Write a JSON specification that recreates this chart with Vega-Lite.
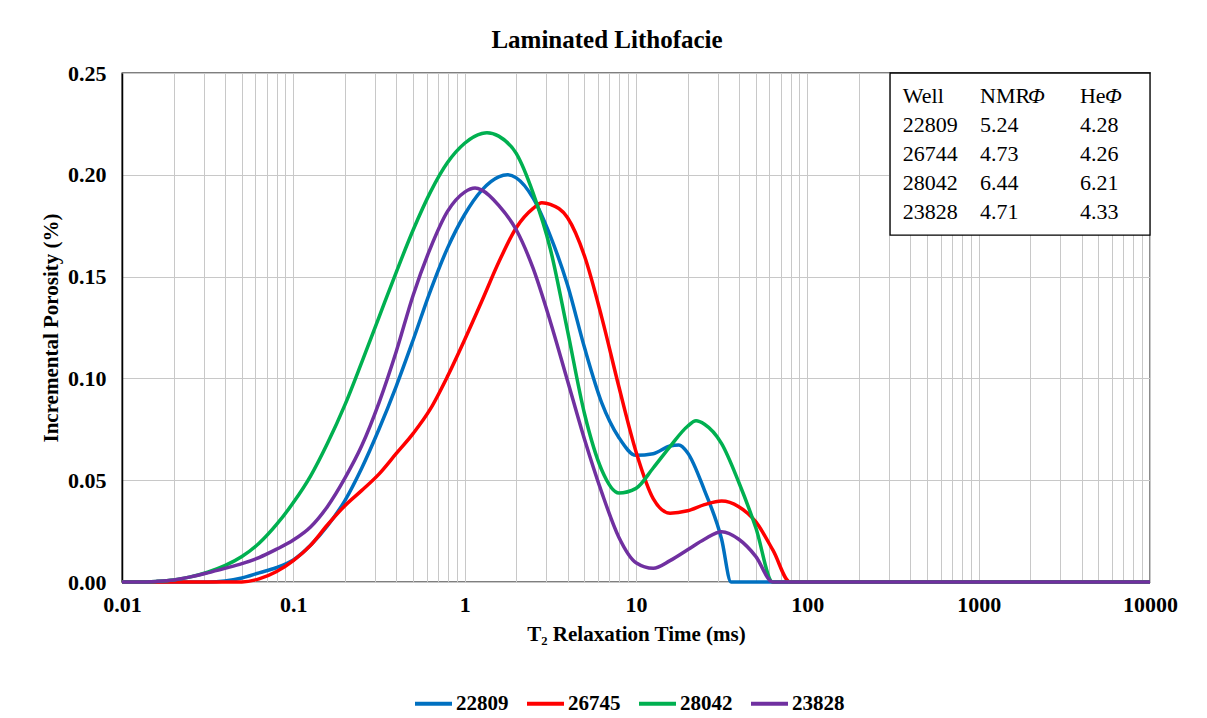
{
  "$schema": "https://vega.github.io/schema/vega-lite/v6.json",
  "width": 1028,
  "height": 509,
  "autosize": {"type": "none"},
  "padding": {"left": 122, "top": 73, "right": 57, "bottom": 136},
  "background": "white",
  "title": {
    "text": "Laminated Lithofacie",
    "font": "Liberation Serif",
    "fontSize": 25,
    "fontWeight": "bold",
    "color": "#000",
    "anchor": "middle",
    "frame": "group",
    "dx": -29,
    "offset": 9
  },
  "config": {
    "font": "Liberation Serif",
    "view": {"stroke": "#000", "strokeWidth": 1.3},
    "axis": {
      "labelFont": "Liberation Serif",
      "labelFontWeight": "bold",
      "labelFontSize": 22,
      "labelColor": "#000",
      "labelFlush": false,
      "titleFont": "Liberation Serif",
      "titleFontWeight": "bold",
      "titleFontSize": 21,
      "titleColor": "#000",
      "ticks": false,
      "gridColor": "#c8c8c8",
      "gridWidth": 1,
      "gridOpacity": 1
    },
    "legend": {
      "labelFont": "Liberation Serif",
      "labelFontWeight": "bold",
      "labelFontSize": 21,
      "labelColor": "#000"
    }
  },
  "datasets": {
    "curves": [
      {"t2": 0.01, "por": 0, "well": "22809"},
      {"t2": 0.0316, "por": 0, "well": "22809"},
      {"t2": 0.0398, "por": 0.0005, "well": "22809"},
      {"t2": 0.0501, "por": 0.002, "well": "22809"},
      {"t2": 0.0631, "por": 0.0045, "well": "22809"},
      {"t2": 0.0794, "por": 0.007, "well": "22809"},
      {"t2": 0.1, "por": 0.0108, "well": "22809"},
      {"t2": 0.126, "por": 0.018, "well": "22809"},
      {"t2": 0.158, "por": 0.0275, "well": "22809"},
      {"t2": 0.2, "por": 0.04, "well": "22809"},
      {"t2": 0.251, "por": 0.056, "well": "22809"},
      {"t2": 0.316, "por": 0.075, "well": "22809"},
      {"t2": 0.398, "por": 0.096, "well": "22809"},
      {"t2": 0.501, "por": 0.119, "well": "22809"},
      {"t2": 0.631, "por": 0.143, "well": "22809"},
      {"t2": 0.794, "por": 0.164, "well": "22809"},
      {"t2": 1, "por": 0.1805, "well": "22809"},
      {"t2": 1.26, "por": 0.1925, "well": "22809"},
      {"t2": 1.58, "por": 0.199, "well": "22809"},
      {"t2": 1.78, "por": 0.2, "well": "22809"},
      {"t2": 2, "por": 0.1985, "well": "22809"},
      {"t2": 2.51, "por": 0.1885, "well": "22809"},
      {"t2": 3.16, "por": 0.17, "well": "22809"},
      {"t2": 3.98, "por": 0.146, "well": "22809"},
      {"t2": 5.01, "por": 0.115, "well": "22809"},
      {"t2": 6.31, "por": 0.088, "well": "22809"},
      {"t2": 7.94, "por": 0.071, "well": "22809"},
      {"t2": 10, "por": 0.0622, "well": "22809"},
      {"t2": 12.6, "por": 0.063, "well": "22809"},
      {"t2": 15.8, "por": 0.0668, "well": "22809"},
      {"t2": 17.8, "por": 0.0673, "well": "22809"},
      {"t2": 20, "por": 0.0635, "well": "22809"},
      {"t2": 25.1, "por": 0.045, "well": "22809"},
      {"t2": 31.6, "por": 0.021, "well": "22809"},
      {"t2": 35.9, "por": 0, "well": "22809"},
      {"t2": 39.8, "por": 0, "well": "22809"},
      {"t2": 100, "por": 0, "well": "22809"},
      {"t2": 10000, "por": 0, "well": "22809"},

      {"t2": 0.01, "por": 0, "well": "26745"},
      {"t2": 0.0501, "por": 0, "well": "26745"},
      {"t2": 0.0631, "por": 0.0015, "well": "26745"},
      {"t2": 0.0794, "por": 0.005, "well": "26745"},
      {"t2": 0.1, "por": 0.0105, "well": "26745"},
      {"t2": 0.126, "por": 0.018, "well": "26745"},
      {"t2": 0.158, "por": 0.028, "well": "26745"},
      {"t2": 0.2, "por": 0.0375, "well": "26745"},
      {"t2": 0.251, "por": 0.045, "well": "26745"},
      {"t2": 0.316, "por": 0.053, "well": "26745"},
      {"t2": 0.398, "por": 0.063, "well": "26745"},
      {"t2": 0.501, "por": 0.073, "well": "26745"},
      {"t2": 0.631, "por": 0.085, "well": "26745"},
      {"t2": 0.794, "por": 0.101, "well": "26745"},
      {"t2": 1, "por": 0.119, "well": "26745"},
      {"t2": 1.26, "por": 0.138, "well": "26745"},
      {"t2": 1.58, "por": 0.157, "well": "26745"},
      {"t2": 2, "por": 0.174, "well": "26745"},
      {"t2": 2.51, "por": 0.1835, "well": "26745"},
      {"t2": 2.82, "por": 0.1863, "well": "26745"},
      {"t2": 3.16, "por": 0.1855, "well": "26745"},
      {"t2": 3.98, "por": 0.179, "well": "26745"},
      {"t2": 5.01, "por": 0.16, "well": "26745"},
      {"t2": 6.31, "por": 0.13, "well": "26745"},
      {"t2": 7.94, "por": 0.096, "well": "26745"},
      {"t2": 10, "por": 0.064, "well": "26745"},
      {"t2": 12.6, "por": 0.041, "well": "26745"},
      {"t2": 15.8, "por": 0.0338, "well": "26745"},
      {"t2": 20, "por": 0.035, "well": "26745"},
      {"t2": 25.1, "por": 0.038, "well": "26745"},
      {"t2": 31.6, "por": 0.0398, "well": "26745"},
      {"t2": 39.8, "por": 0.037, "well": "26745"},
      {"t2": 50.1, "por": 0.0295, "well": "26745"},
      {"t2": 63.1, "por": 0.0155, "well": "26745"},
      {"t2": 79.4, "por": 0, "well": "26745"},
      {"t2": 100, "por": 0, "well": "26745"},
      {"t2": 10000, "por": 0, "well": "26745"},

      {"t2": 0.01, "por": 0, "well": "28042"},
      {"t2": 0.0126, "por": 0, "well": "28042"},
      {"t2": 0.0158, "por": 0.0003, "well": "28042"},
      {"t2": 0.02, "por": 0.001, "well": "28042"},
      {"t2": 0.0251, "por": 0.0025, "well": "28042"},
      {"t2": 0.0316, "por": 0.0048, "well": "28042"},
      {"t2": 0.0398, "por": 0.008, "well": "28042"},
      {"t2": 0.0501, "por": 0.0125, "well": "28042"},
      {"t2": 0.0631, "por": 0.019, "well": "28042"},
      {"t2": 0.0794, "por": 0.028, "well": "28042"},
      {"t2": 0.1, "por": 0.039, "well": "28042"},
      {"t2": 0.126, "por": 0.052, "well": "28042"},
      {"t2": 0.158, "por": 0.068, "well": "28042"},
      {"t2": 0.2, "por": 0.087, "well": "28042"},
      {"t2": 0.251, "por": 0.108, "well": "28042"},
      {"t2": 0.316, "por": 0.13, "well": "28042"},
      {"t2": 0.398, "por": 0.152, "well": "28042"},
      {"t2": 0.501, "por": 0.173, "well": "28042"},
      {"t2": 0.631, "por": 0.1915, "well": "28042"},
      {"t2": 0.794, "por": 0.206, "well": "28042"},
      {"t2": 1, "por": 0.2155, "well": "28042"},
      {"t2": 1.26, "por": 0.2203, "well": "28042"},
      {"t2": 1.35, "por": 0.2207, "well": "28042"},
      {"t2": 1.58, "por": 0.219, "well": "28042"},
      {"t2": 2, "por": 0.2105, "well": "28042"},
      {"t2": 2.51, "por": 0.191, "well": "28042"},
      {"t2": 3.16, "por": 0.1637, "well": "28042"},
      {"t2": 3.98, "por": 0.1236, "well": "28042"},
      {"t2": 5.01, "por": 0.0825, "well": "28042"},
      {"t2": 6.31, "por": 0.055, "well": "28042"},
      {"t2": 7.94, "por": 0.0437, "well": "28042"},
      {"t2": 10, "por": 0.046, "well": "28042"},
      {"t2": 12.6, "por": 0.056, "well": "28042"},
      {"t2": 15.8, "por": 0.0665, "well": "28042"},
      {"t2": 20, "por": 0.0765, "well": "28042"},
      {"t2": 22.4, "por": 0.0792, "well": "28042"},
      {"t2": 25.1, "por": 0.0775, "well": "28042"},
      {"t2": 31.6, "por": 0.068, "well": "28042"},
      {"t2": 39.8, "por": 0.049, "well": "28042"},
      {"t2": 50.1, "por": 0.0265, "well": "28042"},
      {"t2": 62.8, "por": 0, "well": "28042"},
      {"t2": 79.4, "por": 0, "well": "28042"},
      {"t2": 10000, "por": 0, "well": "28042"},

      {"t2": 0.01, "por": 0, "well": "23828"},
      {"t2": 0.0126, "por": 0, "well": "23828"},
      {"t2": 0.0158, "por": 0.0003, "well": "23828"},
      {"t2": 0.02, "por": 0.001, "well": "23828"},
      {"t2": 0.0251, "por": 0.0025, "well": "23828"},
      {"t2": 0.0316, "por": 0.0045, "well": "23828"},
      {"t2": 0.0398, "por": 0.0067, "well": "23828"},
      {"t2": 0.0501, "por": 0.009, "well": "23828"},
      {"t2": 0.0631, "por": 0.012, "well": "23828"},
      {"t2": 0.0794, "por": 0.016, "well": "23828"},
      {"t2": 0.1, "por": 0.0206, "well": "23828"},
      {"t2": 0.126, "por": 0.027, "well": "23828"},
      {"t2": 0.158, "por": 0.037, "well": "23828"},
      {"t2": 0.2, "por": 0.051, "well": "23828"},
      {"t2": 0.251, "por": 0.067, "well": "23828"},
      {"t2": 0.316, "por": 0.088, "well": "23828"},
      {"t2": 0.398, "por": 0.113, "well": "23828"},
      {"t2": 0.501, "por": 0.141, "well": "23828"},
      {"t2": 0.631, "por": 0.164, "well": "23828"},
      {"t2": 0.794, "por": 0.182, "well": "23828"},
      {"t2": 1, "por": 0.1915, "well": "23828"},
      {"t2": 1.15, "por": 0.1935, "well": "23828"},
      {"t2": 1.26, "por": 0.1925, "well": "23828"},
      {"t2": 1.58, "por": 0.185, "well": "23828"},
      {"t2": 2, "por": 0.173, "well": "23828"},
      {"t2": 2.51, "por": 0.154, "well": "23828"},
      {"t2": 3.16, "por": 0.128, "well": "23828"},
      {"t2": 3.98, "por": 0.099, "well": "23828"},
      {"t2": 5.01, "por": 0.07, "well": "23828"},
      {"t2": 6.31, "por": 0.044, "well": "23828"},
      {"t2": 7.94, "por": 0.022, "well": "23828"},
      {"t2": 10, "por": 0.0095, "well": "23828"},
      {"t2": 12.6, "por": 0.0068, "well": "23828"},
      {"t2": 15.8, "por": 0.0105, "well": "23828"},
      {"t2": 20, "por": 0.0158, "well": "23828"},
      {"t2": 25.1, "por": 0.021, "well": "23828"},
      {"t2": 31.6, "por": 0.0247, "well": "23828"},
      {"t2": 39.8, "por": 0.021, "well": "23828"},
      {"t2": 50.1, "por": 0.0125, "well": "23828"},
      {"t2": 62.8, "por": 0, "well": "23828"},
      {"t2": 79.4, "por": 0, "well": "23828"},
      {"t2": 10000, "por": 0, "well": "23828"}
    ],
    "summary": [
      {"Well": "Well", "NMR": "NMR", "He": "He", "phi": "Φ"},
      {"Well": "22809", "NMR": "5.24", "He": "4.28"},
      {"Well": "26744", "NMR": "4.73", "He": "4.26"},
      {"Well": "28042", "NMR": "6.44", "He": "6.21"},
      {"Well": "23828", "NMR": "4.71", "He": "4.33"}
    ]
  },
  "layer": [
    {
      "layer": [
        {
          "data": {"name": "curves"},
          "mark": {"type": "line", "interpolate": "monotone", "strokeWidth": 3.5},
          "encoding": {
            "x": {
              "field": "t2",
              "type": "quantitative",
              "scale": {"type": "log", "domain": [0.01, 10000], "nice": false},
              "axis": {
                "title": "T₂ Relaxation Time (ms)",
                "values": [0.01, 0.02, 0.03, 0.04, 0.05, 0.06, 0.07, 0.08, 0.09,
                           0.1, 0.2, 0.3, 0.4, 0.5, 0.6, 0.7, 0.8, 0.9,
                           1, 2, 3, 4, 5, 6, 7, 8, 9,
                           10, 20, 30, 40, 50, 60, 70, 80, 90,
                           100, 200, 300, 400, 500, 600, 700, 800, 900,
                           1000, 2000, 3000, 4000, 5000, 6000, 7000, 8000, 9000, 10000],
                "labelExpr": "indexof([0.01, 0.1, 1, 10, 100, 1000, 10000], datum.value) >= 0 ? toString(datum.value) : ''",
                "labelOverlap": false,
                "labelPadding": 12,
                "titlePadding": 8,
                "domainColor": "#c8c8c8",
                "grid": true
              }
            },
            "y": {
              "field": "por",
              "type": "quantitative",
              "scale": {"domain": [0, 0.25], "nice": false},
              "axis": {
                "title": "Incremental Porosity (%)",
                "values": [0, 0.05, 0.1, 0.15, 0.2, 0.25],
                "format": ".2f",
                "labelPadding": 16,
                "titlePadding": 6,
                "domainColor": "#000",
                "domainWidth": 1.5,
                "grid": true
              }
            },
            "color": {
              "field": "well",
              "type": "nominal",
              "scale": {
                "domain": ["22809", "26745", "28042", "23828"],
                "range": ["#0070C0", "#FF0000", "#00B050", "#7030A0"]
              },
              "legend": {
                "title": null,
                "orient": "none",
                "legendX": 291,
                "legendY": 610,
                "direction": "horizontal",
                "symbolType": "stroke",
                "symbolSize": 1369,
                "symbolStrokeWidth": 4,
                "labelOffset": 2,
                "columnPadding": 10
              }
            }
          }
        },
        {
          "data": {"values": [{}]},
          "mark": {"type": "rect", "fill": "white", "stroke": "#000", "strokeWidth": 1.3},
          "encoding": {
            "x": {"datum": 304, "type": "quantitative"},
            "x2": {"datum": 10000},
            "y": {"datum": 0.1704, "type": "quantitative"},
            "y2": {"datum": 0.25}
          }
        }
      ]
    },
    {
      "data": {"name": "summary"},
      "encoding": {
        "y": {
          "field": "Well",
          "type": "nominal",
          "scale": {"type": "point", "padding": 0, "domain": ["Well", "22809", "26744", "28042", "23828"], "range": [23, 139]},
          "axis": null
        }
      },
      "layer": [
        {
          "mark": {"type": "text", "align": "left", "baseline": "middle", "fontSize": 22, "font": "Liberation Serif", "color": "#000"},
          "encoding": {"x": {"datum": 361, "type": "quantitative"}, "text": {"field": "Well"}}
        },
        {
          "mark": {"type": "text", "align": "left", "baseline": "middle", "fontSize": 22, "font": "Liberation Serif", "color": "#000"},
          "encoding": {"x": {"datum": 1019, "type": "quantitative"}, "text": {"field": "NMR"}}
        },
        {
          "mark": {"type": "text", "align": "left", "baseline": "middle", "fontSize": 22, "font": "Liberation Serif", "color": "#000"},
          "encoding": {"x": {"datum": 3900, "type": "quantitative"}, "text": {"field": "He"}}
        },
        {
          "transform": [{"filter": "datum.phi"}],
          "mark": {"type": "text", "align": "left", "baseline": "middle", "fontSize": 22, "font": "Liberation Serif", "fontStyle": "italic", "color": "#000"},
          "encoding": {"x": {"datum": 1941, "type": "quantitative"}, "text": {"field": "phi"}}
        },
        {
          "transform": [{"filter": "datum.phi"}],
          "mark": {"type": "text", "align": "left", "baseline": "middle", "fontSize": 22, "font": "Liberation Serif", "fontStyle": "italic", "color": "#000"},
          "encoding": {"x": {"datum": 5456, "type": "quantitative"}, "text": {"field": "phi"}}
        }
      ]
    }
  ],
  "resolve": {"scale": {"y": "independent"}}
}
